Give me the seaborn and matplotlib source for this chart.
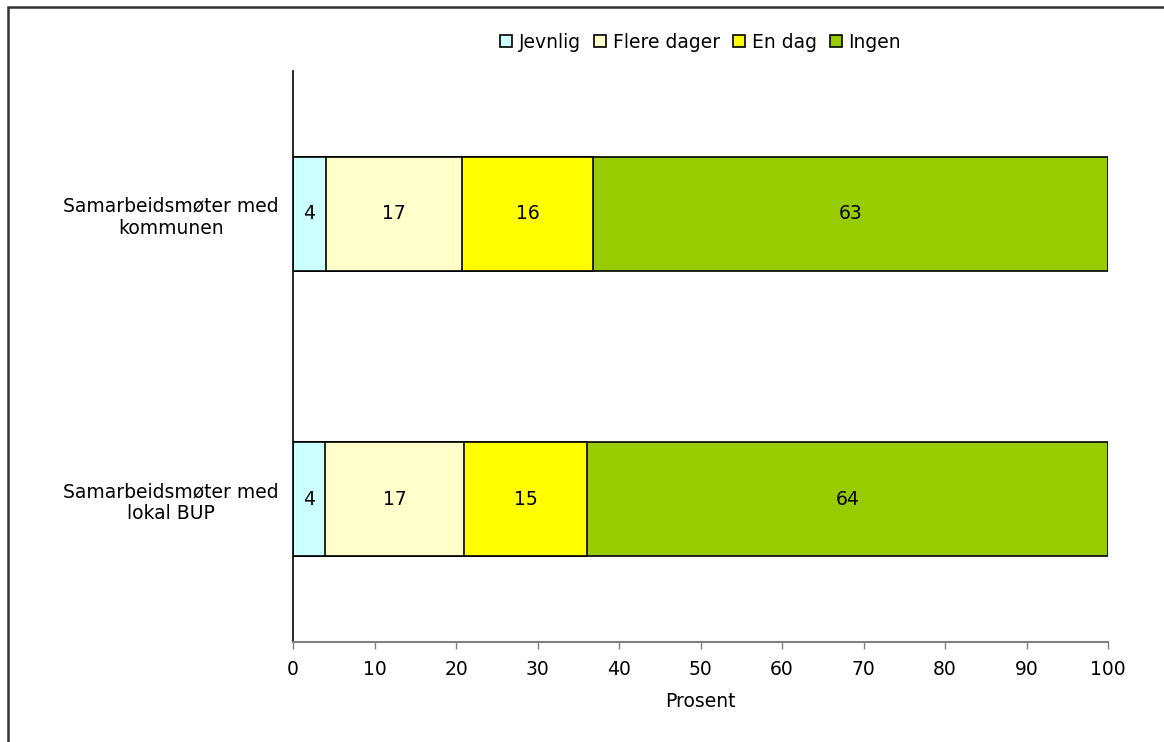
import numpy as np
import pandas as pd
import matplotlib
matplotlib.use("Agg")
import matplotlib.pyplot as plt
import seaborn as sns
from matplotlib.patches import Rectangle, Patch

sns.set_theme(style="white")
plt.rcParams['font.family'] = ['DejaVu Sans']
plt.rcParams['text.color'] = 'black'
plt.rcParams['xtick.color'] = 'black'
plt.rcParams['ytick.color'] = 'black'
plt.rcParams['axes.labelcolor'] = 'black'

# data
categories = ['Samarbeidsmøter med\nkommunen', 'Samarbeidsmøter med\nlokal BUP']
series = ['Jevnlig', 'Flere dager', 'En dag', 'Ingen']
jevnlig = [4.05, 3.9]
flere_dager = [16.7, 17.1]
en_dag = [16.1, 15.1]
ingen = [63.15, 63.9]
colors = ['#CCFFFF', '#FFFFCC', '#FFFF00', '#99CC00']

df = pd.DataFrame({'kategori': categories, 'Jevnlig': jevnlig,
                   'Flere dager': flere_dager, 'En dag': en_dag, 'Ingen': ingen})
cum = df[series].cumsum(axis=1)

fs = 13.5

fig = plt.figure(figsize=(11.64, 7.42), dpi=100)
ax = fig.add_axes([293/1164, 1-642/742, (1108-293)/1164, (642-71)/742])

# stacked bars: draw cumulative totals from the back to the front
for s, c in zip(series[::-1], colors[::-1]):
    sns.barplot(x=cum[s], y=df['kategori'], color=c, orient='h', width=0.4,
                edgecolor='black', linewidth=1.2, saturation=1, ax=ax)

# value labels in the middle of each segment
for i in range(len(categories)):
    for s in series:
        mid = cum.loc[i, s] - df.loc[i, s] / 2
        ax.text(mid, i, f"{df.loc[i, s]:.0f}", ha='center', va='center',
                fontsize=fs, color='black')

ax.set_xlim(0, 100)
ax.set_ylim(1.5, -0.5)
ax.set_xticks(np.arange(0, 101, 10))
ax.set_xlabel('Prosent', fontsize=fs, labelpad=9)
ax.set_ylabel('')
ax.tick_params(axis='x', bottom=True, length=5, width=1, color='#808080',
               labelsize=fs, labelcolor='black', pad=8)
ax.tick_params(axis='y', left=False, labelsize=fs, labelcolor='black', pad=4)
for lab in ax.get_yticklabels():
    lab.set_multialignment('center')

sns.despine(ax=ax, top=True, right=True)
ax.spines['left'].set_color('black')
ax.spines['left'].set_linewidth(1.2)
ax.spines['bottom'].set_color('#808080')
ax.spines['bottom'].set_linewidth(1.5)

handles = [Patch(facecolor=c, edgecolor='black', linewidth=1.2) for c in colors]
ax.legend(handles, series, loc='center', bbox_to_anchor=(0.5, 1 + 29/571),
          ncol=4, frameon=False, fontsize=fs, handlelength=0.65,
          handleheight=0.65, handletextpad=0.35, columnspacing=0.7)

# outer frame of the chart area
fig.patches.append(Rectangle((7.5/1164, -0.1), 2, 1.1 - 7.5/742,
                             transform=fig.transFigure, fill=False,
                             edgecolor='#333333', linewidth=1.8))

fig.savefig('out.png', dpi=100)
